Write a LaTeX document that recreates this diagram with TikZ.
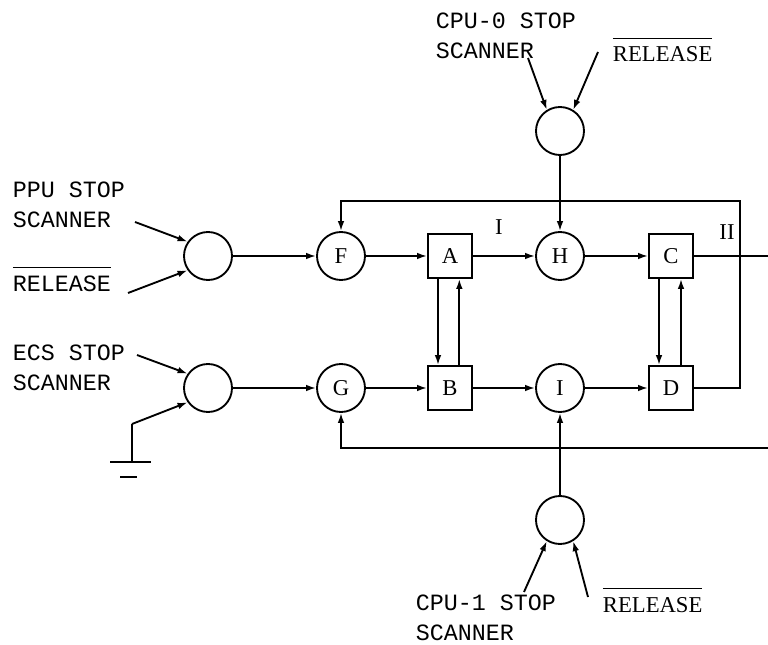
\documentclass[tikz,border=0pt]{standalone}
\usepackage{fontspec}
\setmainfont{Liberation Serif}
\setmonofont{Liberation Mono}
\usetikzlibrary{arrows.meta,positioning,calc}
\newcommand{\barred}[1]{\setbox0\hbox{#1}\rlap{\rule[\dimexpr\ht0+6pt\relax]{\wd0}{1pt}}\box0}

\begin{document}
\begin{tikzpicture}[x=0.75pt, y=-0.75pt, >={Latex[length=7.5pt,width=5pt]}, line width=1.4pt,
  gate/.style={draw, circle, minimum size=36pt, inner sep=0pt, font=\fontsize{17}{20}\selectfont},
  reg/.style={draw, minimum size=33pt, inner sep=0pt, font=\fontsize{17}{20}\selectfont},
  sig/.style={align=left, inner sep=0pt, font=\fontsize{17.5}{22.5}\selectfont\ttfamily},
  rel/.style={inner sep=0pt, font=\fontsize{17}{20}\selectfont}]
  \useasboundingbox (0,0) rectangle (768,645);

  \node[gate] (ppu) at (208,256) {};
  \node[gate] (ecs) at (208,388) {};
  \node[gate] (F) at (341,256) {F};
  \node[gate] (G) at (341,388) {G};
  \node[reg] (A) at (450,256) {A};
  \node[reg] (B) at (450,388) {B};
  \node[gate] (H) at (560,256) {H};
  \node[gate] (I) at (560,388) {I};
  \node[reg] (C) at (671,256) {C};
  \node[reg] (D) at (671,388) {D};
  \node[gate] (cpu0) at (560,131) {};
  \node[gate] (cpu1) at (560,520) {};

  \node[sig, anchor=west] (ppulbl) at (12,205) {PPU STOP\\SCANNER};
  \node[sig, anchor=base west] (ppurel) at (12,292) {\barred{RELEASE}};
  \node[sig, anchor=west] (ecslbl) at (12,368) {ECS STOP\\SCANNER};
  \node[sig, anchor=west] (cpu0lbl) at (435,36) {CPU-0 STOP\\SCANNER};
  \node[rel, anchor=base west] (cpu0rel) at (612,62) {\barred{RELEASE}};
  \node[sig, anchor=west] (cpu1lbl) at (415,618) {CPU-1 STOP\\SCANNER};
  \node[rel, anchor=base west] (cpu1rel) at (602,612) {\barred{RELEASE}};
  \node[rel] (lblI) at (499,227) {I};
  \node[rel] (lblII) at (727,232) {II};

  \coordinate (ppuin1) at (135,222);
  \coordinate (ppuin2) at (128,293);
  \coordinate (ecsin1) at (137,355);
  \coordinate (gnd) at (132,424);
  \coordinate (gndbar) at (132,462);
  \coordinate (cpu0in1) at (528,58);
  \coordinate (cpu0in2) at (598,52);
  \coordinate (cpu1in1) at (524,592);
  \coordinate (cpu1in2) at (588,597);
  \coordinate (fbtop) at (740,201);
  \coordinate (cout) at (768,256);
  \coordinate (fbin) at (768,448);

  \draw[->] (ppuin1) -- (ppu.145);
  \draw[->] (ppuin2) -- (ppu.215);
  \draw[->] (ecsin1) -- (ecs.145);
  \draw[->] (gnd) -- (ecs.215);
  \draw (gnd) -- (gndbar);
  \draw ($(gndbar)+(-22,0)$) -- ($(gndbar)+(19,0)$);
  \draw ($(gndbar)+(-12,15)$) -- ($(gndbar)+(5,15)$);
  \draw[->] (cpu0in1) -- (cpu0.122);
  \draw[->] (cpu0in2) -- (cpu0.58);
  \draw[->] (cpu1in1) -- (cpu1.238);
  \draw[->] (cpu1in2) -- (cpu1.302);

  \draw[->] (ppu) -- (F);
  \draw[->] (ecs) -- (G);
  \draw[->] (F) -- (A);
  \draw[->] (G) -- (B);
  \draw[->] (A) -- (H);
  \draw[->] (B) -- (I);
  \draw[->] (H) -- (C);
  \draw[->] (I) -- (D);
  \draw[->] (cpu0) -- (H);
  \draw[->] (cpu1) -- (I);
  \draw[->] ([xshift=-9pt]A.south) -- ([xshift=-9pt]B.north);
  \draw[->] ([xshift=7pt]B.north) -- ([xshift=7pt]A.south);
  \draw[->] ([xshift=-9pt]C.south) -- ([xshift=-9pt]D.north);
  \draw[->] ([xshift=7.5pt]D.north) -- ([xshift=7.5pt]C.south);
  \draw[->] (D.east) -| (fbtop) -| (F.north);
  \draw (C) -- (cout);
  \draw[->] (fbin) -| (G.south);
\end{tikzpicture}
\end{document}
